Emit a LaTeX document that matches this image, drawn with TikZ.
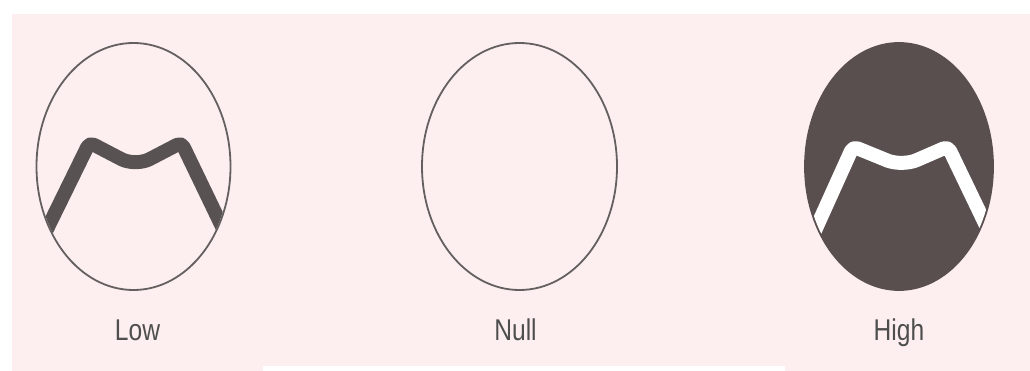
\documentclass[tikz,border=0pt]{standalone}
\usepackage{fontspec}
\setmainfont{Liberation Sans}
\usetikzlibrary{shapes.geometric}
\definecolor{bgpink}{HTML}{FDEFEF}
\definecolor{rimgray}{HTML}{646060}
\definecolor{darkfill}{HTML}{5A4F4F}
\definecolor{mgray}{HTML}{585252}
\definecolor{txtgray}{HTML}{4E4E4E}
\tikzset{
  oval/.style={ellipse,draw=rimgray,line width=1.8pt,minimum height=247pt,inner sep=0pt},
  darkoval/.style={oval,fill=darkfill,draw=darkfill},
  mline/.style={line width=14pt,line join=round},
  lbl/.style={font=\fontsize{30}{30}\selectfont,text=txtgray,anchor=base,inner sep=0pt},
}

\begin{document}
\begin{tikzpicture}[x=1pt,y=-1pt]
  \useasboundingbox (0,0) rectangle (1030,371);
  \fill[white] (0,0) rectangle (1030,371);
  \fill[bgpink] (12,14) rectangle (1030,371);
  \fill[white] (263,366) rectangle (785,371);
  % the three ovals
  \node[oval,minimum width=194pt] (low) at (133.5,166.5) {};
  \node[oval,minimum width=195pt] (null) at (519.5,166.5) {};
  \node[darkoval,minimum width=188pt] (high) at (899,166.5) {};
  % M marks, cut at the rim
  \begin{scope}
    \clip (low.center) ellipse (96pt and 123pt);
    \draw[mline,draw=mgray] ([shift={(-95,80)}]low.center) [rounded corners=5pt]-- ([shift={(-44,-24)}]low.center)
      [rounded corners=16pt]-- ([shift={(2,0)}]low.center)
      [rounded corners=5pt]-- ([shift={(48,-24)}]low.center) -- ([shift={(100,84)}]low.center);
  \end{scope}
  \begin{scope}
    \clip (high.center) ellipse (93pt and 122.5pt);
    \draw[mline,draw=white] ([shift={(-93,84)}]high.center) [rounded corners=5pt]-- ([shift={(-46,-20)}]high.center)
      [rounded corners=16pt]-- ([shift={(3,0)}]high.center)
      [rounded corners=5pt]-- ([shift={(49,-20)}]high.center) -- ([shift={(100,86)}]high.center);
  \end{scope}
  \foreach \x/\t/\n in {137.5/Low/lowlbl,515.5/Null/nulllbl,899/High/highlbl}
    \node[lbl] (\n) at (\x,340) {\scalebox{0.82}[1]{\t}};
\end{tikzpicture}
\end{document}
